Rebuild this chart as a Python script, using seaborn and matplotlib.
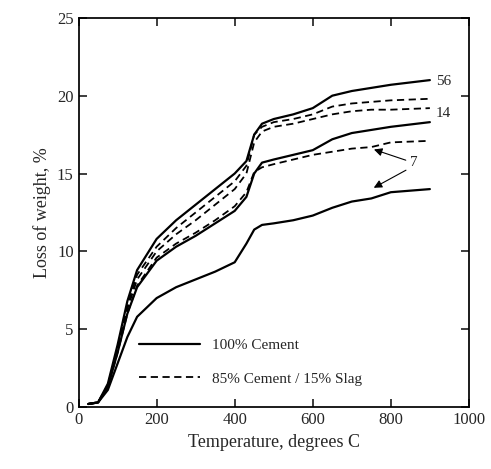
import matplotlib
matplotlib.use("Agg")
import matplotlib.pyplot as plt
import seaborn as sns
import pandas as pd

sns.set_theme(style="ticks")
plt.rcParams['font.family'] = ['Liberation Serif', 'DejaVu Serif']

temps = [25, 50, 75, 100, 125, 150, 200, 250, 300, 350, 400, 430, 450, 470, 500, 550, 600, 650, 700, 750, 800, 900]
s56 = [0.2, 0.3, 1.5, 4.0, 6.8, 8.8, 10.8, 12.0, 13.0, 14.0, 15.0, 15.8, 17.5, 18.2, 18.5, 18.8, 19.2, 20.0, 20.3, 20.5, 20.7, 21.0]
s14 = [0.2, 0.3, 1.3, 3.5, 6.0, 7.7, 9.4, 10.3, 11.0, 11.8, 12.6, 13.5, 15.0, 15.7, 15.9, 16.2, 16.5, 17.2, 17.6, 17.8, 18.0, 18.3]
s7 = [0.2, 0.3, 1.1, 2.8, 4.5, 5.8, 7.0, 7.7, 8.2, 8.7, 9.3, 10.5, 11.4, 11.7, 11.8, 12.0, 12.3, 12.8, 13.2, 13.4, 13.8, 14.0]
d56 = [0.2, 0.3, 1.4, 3.8, 6.5, 8.5, 10.3, 11.5, 12.5, 13.5, 14.5, 15.5, 17.5, 18.0, 18.3, 18.5, 18.8, 19.3, 19.5, 19.6, 19.7, 19.8]
d14 = [0.2, 0.3, 1.4, 3.7, 6.3, 8.2, 10.0, 11.1, 12.0, 13.0, 14.0, 15.0, 17.0, 17.7, 18.0, 18.2, 18.5, 18.8, 19.0, 19.1, 19.1, 19.2]
d7 = [0.2, 0.3, 1.3, 3.5, 6.0, 7.8, 9.6, 10.5, 11.2, 12.0, 12.9, 13.8, 15.1, 15.4, 15.6, 15.9, 16.2, 16.4, 16.6, 16.7, 17.0, 17.1]

fig, ax = plt.subplots(figsize=(4.91, 4.69), dpi=100)
for ys in (s56, s14, s7):
    sns.lineplot(x=temps, y=ys, ax=ax, color='black', lw=1.6)
for ys in (d56, d14, d7):
    sns.lineplot(x=temps, y=ys, ax=ax, color='black', lw=1.3, ls=(0, (4, 2.5)))

ax.plot([], [], color='black', lw=1.6, label='100% Cement')
ax.plot([], [], color='black', lw=1.3, ls=(0, (4, 2.5)), label='85% Cement / 15% Slag')
ax.legend(frameon=False, loc='lower left', bbox_to_anchor=(0.12, 0.02), fontsize=11,
          handlelength=4, labelspacing=1.3)

ax.text(915, 20.7, '56', fontsize=11)
ax.text(915, 18.6, '14', fontsize=11)
ax.text(850, 15.5, '7', fontsize=11)
ax.annotate('', xy=(750, 16.6), xytext=(845, 15.8), arrowprops=dict(arrowstyle='-|>', color='black', lw=0.8))
ax.annotate('', xy=(750, 14.0), xytext=(845, 15.3), arrowprops=dict(arrowstyle='-|>', color='black', lw=0.8))

ax.set_xlim(0, 1000)
ax.set_ylim(0, 25)
ax.set_xticks([0, 200, 400, 600, 800, 1000])
ax.set_yticks([0, 5, 10, 15, 20, 25])
ax.tick_params(direction='in', top=True, right=True, labelsize=12)
ax.set_xlabel('Temperature, degrees C', fontsize=13)
ax.set_ylabel('Loss of weight, %', fontsize=13)
for s in ax.spines.values():
    s.set_color('black')
fig.subplots_adjust(left=0.16, right=0.955, top=0.962, bottom=0.132)
fig.savefig('out.png')
